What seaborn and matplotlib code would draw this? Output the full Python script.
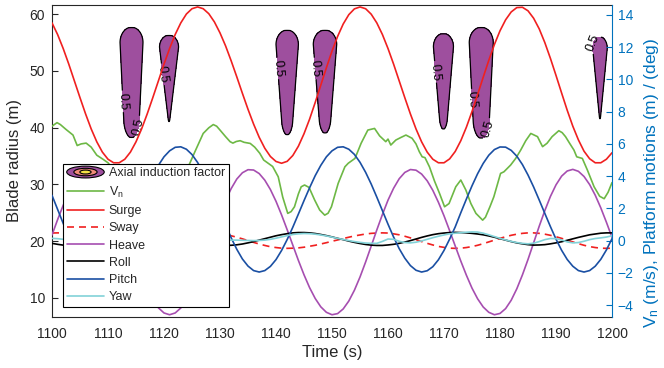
import numpy as np
import matplotlib
matplotlib.use("Agg")
import matplotlib.pyplot as plt
import seaborn as sns
from matplotlib.patches import Ellipse
from matplotlib.legend_handler import HandlerBase

# ---------------- data ----------------
time_s = list(range(1100, 1201))

surge = [13.51, 12.79, 11.92, 10.95, 9.91, 8.87, 7.86, 6.93, 6.13, 5.49,
         5.05, 4.83, 4.83, 5.05, 5.49, 6.13, 6.93, 7.86, 8.87, 9.91,
         10.95, 11.92, 12.79, 13.51, 14.06, 14.39, 14.50, 14.39, 14.08, 13.57,
         12.89, 12.08, 11.15, 10.16, 9.14, 8.15, 7.23, 6.41, 5.73, 5.22,
         4.91, 4.80, 4.92, 5.28, 5.86, 6.63, 7.54, 8.57, 9.65, 10.73,
         11.76, 12.67, 13.44, 14.02, 14.38, 14.50, 14.39, 14.05, 13.51, 12.79,
         11.92, 10.95, 9.91, 8.87, 7.86, 6.93, 6.13, 5.49, 5.05, 4.83,
         4.83, 5.07, 5.53, 6.20, 7.04, 8.01, 9.06, 10.14, 11.19, 12.17,
         13.02, 13.70, 14.19, 14.46, 14.48, 14.26, 13.80, 13.14, 12.29, 11.31,
         10.25, 9.16, 8.09, 7.10, 6.25, 5.55, 5.08, 4.83, 4.83, 5.05,
         5.45]

sway = [0.47, 0.48, 0.47, 0.43, 0.37, 0.29, 0.19, 0.08, -0.03, -0.14,
        -0.24, -0.33, -0.40, -0.45, -0.48, -0.48, -0.45, -0.40, -0.33, -0.24,
        -0.14, -0.03, 0.08, 0.19, 0.29, 0.37, 0.43, 0.47, 0.48, 0.47,
        0.43, 0.38, 0.30, 0.21, 0.11, 0.00, -0.11, -0.21, -0.30, -0.38,
        -0.43, -0.47, -0.48, -0.47, -0.45, -0.41, -0.35, -0.29, -0.21, -0.13,
        -0.04, 0.04, 0.13, 0.21, 0.29, 0.35, 0.41, 0.45, 0.47, 0.48,
        0.47, 0.42, 0.36, 0.27, 0.17, 0.06, -0.06, -0.17, -0.27, -0.36,
        -0.42, -0.47, -0.48, -0.47, -0.43, -0.37, -0.29, -0.19, -0.08, 0.03,
        0.14, 0.24, 0.33, 0.40, 0.45, 0.48, 0.48, 0.45, 0.40, 0.33,
        0.24, 0.14, 0.03, -0.08, -0.19, -0.29, -0.37, -0.43, -0.47, -0.48,
        -0.47]

heave = [0.35, 1.30, 2.19, 2.97, 3.62, 4.09, 4.35, 4.42, 4.26, 3.90,
         3.34, 2.61, 1.75, 0.80, -0.19, -1.18, -2.11, -2.95, -3.64, -4.17,
         -4.49, -4.60, -4.49, -4.18, -3.67, -2.99, -2.17, -1.26, -0.29, 0.69,
         1.64, 2.50, 3.23, 3.82, 4.21, 4.40, 4.38, 4.16, 3.75, 3.17,
         2.44, 1.59, 0.67, -0.28, -1.23, -2.12, -2.92, -3.59, -4.11, -4.45,
         -4.60, -4.53, -4.24, -3.75, -3.08, -2.26, -1.33, -0.34, 0.66, 1.62,
         2.51, 3.25, 3.84, 4.23, 4.41, 4.37, 4.13, 3.71, 3.12, 2.38,
         1.54, 0.62, -0.33, -1.27, -2.15, -2.95, -3.61, -4.12, -4.45, -4.60,
         -4.52, -4.22, -3.70, -2.99, -2.13, -1.17, -0.14, 0.89, 1.86, 2.74,
         3.46, 4.00, 4.32, 4.42, 4.30, 3.98, 3.48, 2.82, 2.03, 1.14,
         0.20]

roll = [-0.17, -0.23, -0.28, -0.30, -0.30, -0.28, -0.23, -0.17, -0.10, -0.02,
        0.08, 0.17, 0.26, 0.34, 0.41, 0.46, 0.49, 0.50, 0.49, 0.46,
        0.41, 0.35, 0.27, 0.19, 0.10, 0.01, -0.07, -0.15, -0.21, -0.26,
        -0.29, -0.30, -0.29, -0.26, -0.21, -0.14, -0.06, 0.03, 0.12, 0.21,
        0.30, 0.37, 0.43, 0.48, 0.50, 0.50, 0.48, 0.44, 0.38, 0.31,
        0.23, 0.14, 0.06, -0.03, -0.11, -0.18, -0.24, -0.28, -0.30, -0.30,
        -0.27, -0.23, -0.17, -0.09, 0.00, 0.10, 0.20, 0.29, 0.37, 0.43,
        0.47, 0.50, 0.51, 0.50, 0.48, 0.45, 0.41, 0.36, 0.29, 0.21,
        0.12, 0.03, -0.06, -0.14, -0.20, -0.25, -0.28, -0.27, -0.25, -0.20,
        -0.14, -0.07, 0.02, 0.11, 0.20, 0.28, 0.36, 0.41, 0.46, 0.48,
        0.48]

pitch = [2.81, 1.94, 1.07, 0.25, -0.48, -1.10, -1.56, -1.85, -1.95, -1.86,
         -1.60, -1.18, -0.61, 0.07, 0.83, 1.65, 2.48, 3.28, 4.03, 4.67,
         5.20, 5.57, 5.79, 5.82, 5.67, 5.34, 4.85, 4.22, 3.48, 2.66,
         1.81, 0.97, 0.17, -0.54, -1.14, -1.58, -1.86, -1.95, -1.86, -1.60,
         -1.18, -0.61, 0.07, 0.83, 1.65, 2.48, 3.28, 4.03, 4.67, 5.20,
         5.57, 5.79, 5.82, 5.67, 5.35, 4.86, 4.24, 3.51, 2.70, 1.86,
         1.02, 0.22, -0.50, -1.09, -1.55, -1.84, -1.95, -1.87, -1.62, -1.19,
         -0.61, 0.09, 0.85, 1.73, 2.58, 3.40, 4.15, 4.79, 5.30, 5.65,
         5.81, 5.80, 5.60, 5.24, 4.72, 4.07, 3.33, 2.52, 1.69, 0.87,
         0.09, -0.60, -1.17, -1.59, -1.86, -1.95, -1.86, -1.59, -1.16, -0.58,
         0.12]

yaw = [0.14, 0.12, 0.08, 0.02, -0.04, -0.08, -0.06, 0.00, 0.05, 0.02,
       0.00, 0.05, 0.14, 0.24, 0.33, 0.40, 0.44, 0.45, 0.42, 0.36,
       0.28, 0.19, 0.10, 0.02, -0.04, -0.08, -0.06, -0.01, 0.02, 0.03,
       0.02, 0.02, 0.03, 0.03, 0.02, 0.01, 0.00, 0.01, 0.03, 0.08,
       0.15, 0.23, 0.31, 0.38, 0.42, 0.44, 0.43, 0.40, 0.35, 0.29,
       0.22, 0.14, 0.07, 0.00, -0.06, -0.11, -0.15, -0.17, -0.17, -0.05,
       0.10, 0.08, -0.04, -0.12, -0.14, -0.10, -0.02, 0.08, 0.18, 0.27,
       0.35, 0.42, 0.46, 0.49, 0.52, 0.54, 0.53, 0.46, 0.36, 0.25,
       0.14, 0.04, -0.05, -0.12, -0.17, -0.20, -0.16, -0.06, 0.06, 0.13,
       0.12, 0.04, -0.08, -0.14, -0.12, -0.04, 0.06, 0.13, 0.17, 0.22,
       0.30]

vn_time = [1100, 1100.9, 1101.5, 1102.5, 1103.75, 1104.5, 1105.2, 1106.1, 1107, 1108,
           1109.1, 1110, 1111, 1112.5, 1114, 1115.5, 1117, 1118.5, 1120, 1121.5,
           1123, 1124, 1124.6, 1125.5, 1127, 1128, 1128.8, 1129.4, 1130, 1131,
           1131.8, 1132.3, 1132.9, 1133.6, 1134.3, 1135.4, 1136.2, 1137.1, 1137.8, 1138.4,
           1139.4, 1140.4, 1141.2, 1142.1, 1142.7, 1143.3, 1144, 1144.5, 1145.1, 1145.9,
           1146.9, 1147.8, 1148.7, 1149.3, 1149.9, 1151.1, 1152.3, 1152.9, 1154.1, 1155.2,
           1156.4, 1157.6, 1158.5, 1159.6, 1160.0, 1160.5, 1161.4, 1162.3, 1163.2, 1164.3,
           1165.0, 1165.6, 1166.1, 1166.6, 1167.4, 1168.3, 1169.2, 1170.1, 1170.9, 1172.1,
           1173, 1173.9, 1174.8, 1175.7, 1176.9, 1177.4, 1178.2, 1178.9, 1180.1, 1180.7,
           1181.9, 1182.8, 1183.7, 1184.6, 1185.5, 1186.7, 1187.2, 1187.6, 1188.4, 1189.3,
           1190.5, 1191.1, 1191.7, 1192.5, 1193.2, 1193.7, 1194.7, 1195.6, 1196.8, 1197.8,
           1198.6, 1199.3, 1200]
vn_values = [7.1, 7.32, 7.2, 6.9, 6.55, 5.9, 6.0, 6.05, 5.8, 5.3,
             5.05, 4.83, 4.4, 3.8, 3.4, 3.2, 3.3, 3.0, 2.9, 3.1,
             3.8, 4.4, 4.79, 5.5, 6.65, 7.0, 7.2, 7.1, 6.86, 6.45,
             6.14, 6.05, 6.15, 6.2, 6.1, 6.03, 5.8, 5.42, 5.0, 4.85,
             4.6, 3.96, 2.7, 1.69, 1.8, 2.1, 2.9, 3.34, 3.45, 3.3,
             2.52, 1.9, 1.58, 1.7, 2.1, 3.55, 4.58, 4.8, 5.1, 6.04,
             6.86, 6.96, 6.5, 6.14, 6.3, 5.93, 6.24, 6.4, 6.55, 6.35,
             6.0, 5.51, 5.2, 5.15, 4.58, 3.7, 2.93, 2.1, 2.3, 3.34,
             3.76, 3.14, 2.3, 1.69, 1.27, 1.45, 2.1, 2.72, 4.17, 4.27,
             4.69, 5.1, 5.62, 6.2, 6.65, 6.45, 6.1, 5.83, 6.04, 6.45,
             6.82, 6.7, 6.45, 6.0, 5.62, 5.2, 5.1, 4.38, 3.34, 2.75,
             2.6, 3.0, 3.6]

# axial induction factor regions (a > 0.5) along blade radius
blob_time = [1114.2, 1120.9, 1142.0, 1148.75, 1169.9, 1176.65, 1197.85]
blob_top = [57.7, 56.3, 57.2, 57.2, 56.6, 57.7, 56.0]
blob_bottom = [38.2, 41.0, 38.7, 39.0, 39.7, 38.1, 41.5]
blob_halfwidth = [2.05, 1.7, 2.0, 2.09, 1.79, 2.14, 1.3]
blob_taper = [0.6, 0.05, 0.4, 0.4, 0.3, 0.6, 0.05]
blob_round = [0.15, 0.03, 0.12, 0.12, 0.1, 0.15, 0.03]
contour_level = 0.5
label_time = [1112.1, 1115.4, 1119.0, 1139.9, 1146.7, 1168.2, 1174.6, 1177.5, 1197.2]
label_radius = [44.6, 40.2, 49.3, 50.4, 50.4, 49.8, 44.9, 39.9, 54.7]

x_ticks = list(range(1100, 1201, 10))
left_ticks = [10, 20, 30, 40, 50, 60]
right_ticks = [-4, -2, 0, 2, 4, 6, 8, 10, 12, 14]

# ---------------- style ----------------
sns.set_style("white")
plt.rcParams["font.family"] = ["Liberation Sans", "DejaVu Sans"]
plt.rcParams["mathtext.default"] = "regular"

C_FILL = "#9E4F9E"
C_SALMON = "#F08C78"
C_YELLOW = "#F5E246"
C_GREEN = "#6DB845"
C_RED = "#F02020"
C_PURPLE = "#A64EB0"
C_BLUE = "#1A4FA3"
C_CYAN = "#82D2D8"
C_AX2 = "#0072BD"
C_TXT = "#262626"

fig = plt.figure(figsize=(6.64, 3.68), dpi=100)
ax = fig.add_axes([0.0783, 0.1386, 0.8434, 0.8478])
ax2 = ax.twinx()

# ---------------- contour field ----------------
tg = np.linspace(1100, 1200, 2001)
rg = np.linspace(6, 62, 561)
T, R = np.meshgrid(tg, rg)
F = np.full(T.shape, -1.0)
s0 = 0.86
for tc, top, bot, hw, hb, sb in zip(blob_time, blob_top, blob_bottom,
                                    blob_halfwidth, blob_taper, blob_round):
    s = (R - bot) / (top - bot)
    dome = hw * np.sqrt(np.clip(1 - ((s - s0) / (1 - s0)) ** 2, 0, 1))
    lin = hw * (hb + (1 - hb) * np.clip(s / s0, 0, 1))
    rnd = np.where(s < sb, np.sqrt(np.clip(1 - ((sb - s) / sb) ** 2, 0, 1)), 1.0)
    h = np.where(s >= s0, dome, lin * rnd)
    h = np.where((s > 0) & (s < 1), h, 0.0)
    val = np.where(h > 1e-6, 1 - 0.5 * ((T - tc) / np.maximum(h, 1e-6)) ** 2, -1.0)
    F = np.maximum(F, val)

ax.contourf(T, R, F, levels=[contour_level, 2.0], colors=[C_FILL])
cs = ax.contour(T, R, F, levels=[contour_level], colors="k", linewidths=0.9)
ax.clabel(cs, fmt="%.1f", fontsize=9, inline=True, inline_spacing=2,
          manual=list(zip(label_time, label_radius)))

# ---------------- lines ----------------
lw = 1.2
sns.lineplot(x=vn_time, y=vn_values, ax=ax2, color=C_GREEN, linewidth=lw)
sns.lineplot(x=time_s, y=surge, ax=ax2, color=C_RED, linewidth=lw)
sns.lineplot(x=time_s, y=sway, ax=ax2, color=C_RED, linewidth=lw)
ax2.lines[-1].set_dashes([4.2, 3.0])
sns.lineplot(x=time_s, y=heave, ax=ax2, color=C_PURPLE, linewidth=lw)
sns.lineplot(x=time_s, y=roll, ax=ax2, color="black", linewidth=lw)
sns.lineplot(x=time_s, y=pitch, ax=ax2, color=C_BLUE, linewidth=lw)
sns.lineplot(x=time_s, y=yaw, ax=ax2, color=C_CYAN, linewidth=lw)
line_handles = list(ax2.lines[:7])

# ---------------- axes ----------------
ax.set_xlim(1100, 1200)
ax.set_ylim(6.65, 61.6)
ax2.set_ylim(-4.74, 14.62)
ax.set_xticks(x_ticks)
ax.set_yticks(left_ticks)
ax2.set_yticks(right_ticks)

ax.set_xlabel("Time (s)", fontsize=12, color=C_TXT, labelpad=3)
ax.set_ylabel("Blade radius (m)", fontsize=12, color=C_TXT, labelpad=5)
ax2.set_ylabel("V$_n$ (m/s), Platform motions (m) / (deg)", fontsize=12.5,
               color=C_AX2)
ax2.yaxis.set_label_coords(1.053, 0.43)

ax.tick_params(axis="both", direction="in", length=4, width=0.8,
               labelsize=10, colors=C_TXT)
ax.tick_params(axis="x", pad=7)
ax.tick_params(axis="y", pad=5, left=True, right=False)
ax2.tick_params(axis="y", direction="in", length=4, width=0.8,
                labelsize=10, colors=C_AX2, pad=4)

for sp in ["left", "bottom", "top"]:
    ax.spines[sp].set_color(C_TXT)
    ax.spines[sp].set_linewidth(0.8)
ax.spines["right"].set_visible(False)
for sp in ["left", "bottom", "top"]:
    ax2.spines[sp].set_visible(False)
ax2.spines["right"].set_color(C_AX2)
ax2.spines["right"].set_linewidth(0.8)

# ---------------- legend ----------------
class AxialKey:
    pass


class AxialKeyHandler(HandlerBase):
    def create_artists(self, legend, orig_handle, xdescent, ydescent,
                       width, height, fontsize, trans):
        cx = -xdescent + width / 2
        cy = -ydescent + height / 2
        arts = []
        for fw, fh, col in [(1.0, 1.35, C_FILL), (0.62, 0.85, C_SALMON),
                            (0.3, 0.45, C_YELLOW)]:
            e = Ellipse((cx, cy), width * fw, height * fh, facecolor=col,
                        edgecolor="k", linewidth=0.8, transform=trans)
            arts.append(e)
        return arts


labels = ["Axial induction factor", "V$_n$", "Surge", "Sway", "Heave",
          "Roll", "Pitch", "Yaw"]
leg = ax2.legend([AxialKey()] + line_handles, labels,
                 handler_map={AxialKey: AxialKeyHandler()},
                 loc="lower left", bbox_to_anchor=(0.0196, 0.032),
                 borderaxespad=0, frameon=True, fancybox=False,
                 edgecolor="k", framealpha=1, fontsize=9,
                 handlelength=3.0, handletextpad=0.35, labelspacing=0.42,
                 borderpad=0.3)
leg.get_frame().set_linewidth(0.8)
for t in leg.get_texts():
    t.set_color(C_TXT)

fig.savefig("out.png", dpi=100)
